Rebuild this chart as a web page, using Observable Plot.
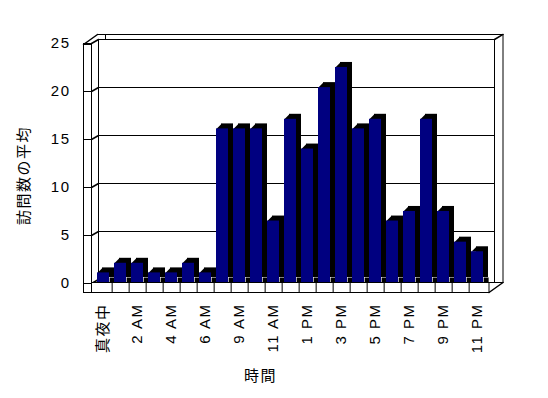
<!DOCTYPE html>
<html>
<head>
<meta charset="utf-8">
<script src="https://cdn.jsdelivr.net/npm/d3@7"></script>
<script src="https://cdn.jsdelivr.net/npm/@observablehq/plot@0.6"></script>
<style>
  html, body { margin: 0; padding: 0; background: #fff; }
</style>
</head>
<body>
<div id="chart"></div>
<script>
// ---- data ----
const hours = ["真夜中","1 AM","2 AM","3 AM","4 AM","5 AM","6 AM","8 AM","9 AM","10 AM","11 AM","12 PM",
               "1 PM","2 PM","3 PM","4 PM","5 PM","6 PM","7 PM","8 PM","9 PM","10 PM","11 PM"];
const visits = [1, 2, 2, 1, 1, 2, 1, 16, 16, 16, 6.4, 17, 13.9, 20.3, 22.4, 16, 17, 6.4, 7.4, 17, 7.4, 4.2, 3.2];
const labeledHours = ["真夜中","2 AM","4 AM","6 AM","9 AM","11 AM","1 PM","3 PM","5 PM","7 PM","9 PM","11 PM"];
const yTicks = [0, 5, 10, 15, 20, 25];
const gridTicks = [5, 10, 15, 20];
const yTitle = "訪問数の平均";
const xTitle = "時間";

const table = hours.map((h, i) => ({hour: h, visits: visits[i]}));

const D = 5; // extrusion depth in px
const line = {draw(ctx, l) { ctx.moveTo(0, 0); ctx.lineTo(0, -l); }};
const topCorner = {draw(ctx) { ctx.moveTo(0, 0); ctx.lineTo(D, -D); ctx.lineTo(D, 0); ctx.closePath(); }};
const bottomCorner = {draw(ctx) { ctx.moveTo(0, 0); ctx.lineTo(D, 0); ctx.lineTo(D, -D); ctx.lineTo(0, -D); ctx.closePath(); }};

const chart = Plot.plot({
  width: 548,
  height: 398,
  marginLeft: 91,
  marginRight: 59,
  marginTop: 42,
  marginBottom: 116,
  style: {fontFamily: "'Liberation Sans', Arial, 'Noto Sans CJK JP', sans-serif", fontSize: "15px", letterSpacing: "1.5px", color: "black", background: "white"},
  x: {type: "band", domain: hours, paddingInner: 0.29, paddingOuter: 0.145, axis: null},
  y: {domain: [0, 25], axis: null},
  marks: [
    // back wall (outer face) and its top edge
    Plot.frame({fill: "white", stroke: "black", insetLeft: 14, insetRight: -13.5, insetTop: -8}),
    Plot.ruleY([25], {stroke: "black", dy: -8, insetLeft: 6, insetRight: -13.5}),
    // back wall (inner face)
    Plot.frame({fill: "white", stroke: "black", insetLeft: 7, insetRight: -5, insetTop: -3}),
    Plot.ruleY(gridTicks, {y: d => d, stroke: "black", dy: -3, insetLeft: 7, insetRight: -5}),
    Plot.vector([0], {frameAnchor: "top-right", dx: 5, dy: -3, length: 9.9, rotate: 59.5, anchor: "start", shape: line, stroke: "black"}),
    Plot.vector([0], {frameAnchor: "top-left", dx: -8, dy: 2, length: 17.2, rotate: 54.5, anchor: "start", shape: line, stroke: "black"}),
    Plot.vector(yTicks, {y: d => d, frameAnchor: "left", dy: 1, length: 8.1, rotate: 60.3, anchor: "start", shape: line, stroke: "black"}),
    // bars: dark extrusion + navy front face
    Plot.barY(table, {x: "hour", y: "visits", fill: "black", dx: D, dy: -D}),
    Plot.vector(table, {x: "hour", y: "visits", dx: -6.14, length: 1, anchor: "start", shape: topCorner, fill: "black", stroke: "none"}),
    Plot.vector(table, {x: "hour", y: () => 0, dx: 6.14, length: 1, anchor: "start", shape: bottomCorner, fill: "black", stroke: "none"}),
    Plot.barY(table, {x: "hour", y: "visits", fill: "#000080"}),
    // floor front face
    Plot.frame({fill: "white", stroke: "black", insetTop: 240, insetBottom: -10, insetRight: 0.5}),
    Plot.ruleX(hours.slice(0, -1), {x: d => d, dx: 8.65, stroke: "black", insetTop: 240, insetBottom: -10}),
    Plot.vector([0], {frameAnchor: "bottom-right", dx: -0.5, dy: 10, length: 17.2, rotate: 54.5, anchor: "start", shape: line, stroke: "black"}),
    // left wall front face
    Plot.frame({fill: "white", stroke: "black", insetLeft: -8, insetRight: 398, insetTop: 2, insetBottom: -10}),
    // axes
    Plot.axisY({ticks: yTicks, tickSize: 8, tickPadding: 13, dy: 1, label: null, fontSize: 15, fill: "black"}),
    Plot.axisX({ticks: labeledHours, tickSize: 0, tickPadding: 21, tickRotate: -90, label: null, fontSize: 15, fill: "black"}),
    // titles
    Plot.text([yTitle], {frameAnchor: "left", textAnchor: "middle", lineAnchor: "middle", rotate: -90, dx: -67, dy: 13, fontSize: 15, fill: "black"}),
    Plot.text([xTitle], {frameAnchor: "bottom", textAnchor: "middle", lineAnchor: "middle", dx: -30, dy: 94, fontSize: 15, fill: "black"})
  ]
});
document.getElementById("chart").appendChild(chart);
</script>
</body>
</html>
